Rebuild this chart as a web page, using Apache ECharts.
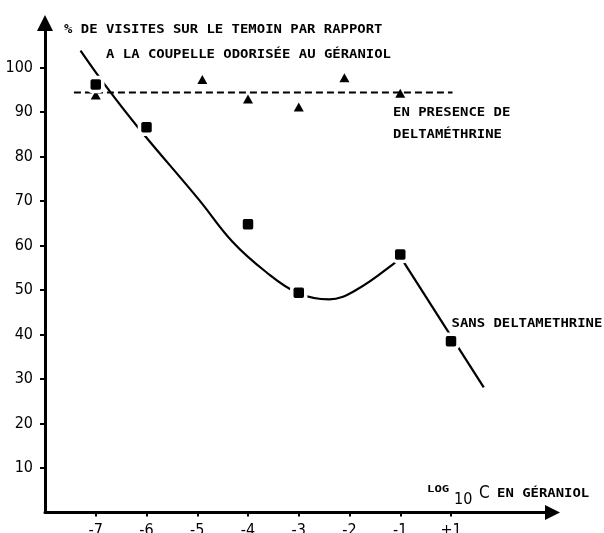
<!DOCTYPE html>
<html><head><meta charset="utf-8">
<script src="https://cdn.jsdelivr.net/npm/echarts@6/dist/echarts.min.js"></script>
<style>html,body{margin:0;padding:0;background:#fff}#c{width:604px;height:533px}</style>
</head><body><div id="c"></div>
<script>
// tick values / labels
const yTickValues = [10, 20, 30, 40, 50, 60, 70, 80, 90, 100];
const xTickPos = [-7, -6, -5, -4, -3, -2, -1, 0];
const xTickLabels = ['-7', '-6', '-5', '-4', '-3', '-2', '-1', '+1'];
// sans deltaméthrine (squares)
const sqX = [-7, -6, -4, -3, -1, 0];
const sqY = [96.2, 86.6, 64.8, 49.4, 58.0, 38.5];
// en présence de deltaméthrine (triangles)
const triX = [-7, -4.9, -4, -3, -2.1, -1];
const triY = [93.8, 97.3, 92.9, 91.1, 97.7, 94.2];
// hand-drawn fitted curve
const curveX = [-7.30, -6.80, -6.15, -4.96, -4.31, -3.65, -3.03, -2.40, -1.87, -1.12, -1.0];
const curveY = [103.8, 95.8, 86.3, 70.2, 60.9, 54.1, 49.4, 47.9, 50.0, 56.0, 57.5];
const tailX = [-1.0, 0.645];
const tailY = [57.5, 28.1];
// dashed mean line
const meanX = [-7.43, 0.03];
const meanY = [94.4, 94.4];

const zip = (a, b) => a.map((v, i) => [v, b[i]]);
const MONO = '"DejaVu Sans Mono", "Liberation Mono", monospace';
const COND = '"DejaVu Sans Condensed", "Liberation Sans Narrow", "DejaVu Sans", sans-serif';
const SX = 1.16;

function txt(x, y, text, size, family, sx, weight) {
  return {
    type: 'text', x: x, y: y, scaleX: sx || 1, z: 50,
    style: {
      text: text, fill: '#000',
      fontSize: size, fontFamily: family, fontWeight: weight || 'bold',
      align: 'left', verticalAlign: 'middle'
    }
  };
}

const chart = echarts.init(document.getElementById('c'), null, {renderer: 'canvas'});
chart.setOption({
  animation: false,
  backgroundColor: '#fff',
  grid: {left: 45, right: 51.5, top: 23, bottom: 20.5, containLabel: false, outerBoundsMode: 'none'},
  xAxis: {
    type: 'value', min: -8, max: 2,
    splitLine: {show: false},
    axisLine: {show: true, onZero: false, lineStyle: {color: '#000', width: 3},
      symbol: ['none', 'triangle'], symbolSize: [15, 15]},
    axisTick: {show: true, inside: false, length: 4, lineStyle: {color: '#000', width: 2},
      customValues: xTickPos},
    axisLabel: {show: true, customValues: xTickPos, margin: 10, color: '#000',
      fontSize: 16, fontFamily: COND,
      formatter: v => xTickLabels[xTickPos.indexOf(v)]}
  },
  yAxis: {
    type: 'value', min: 0, max: 110,
    splitLine: {show: false},
    axisLine: {show: true, onZero: false, lineStyle: {color: '#000', width: 3},
      symbol: ['none', 'triangle'], symbolSize: [16, 16]},
    axisTick: {show: true, inside: false, length: 5, lineStyle: {color: '#000', width: 2},
      customValues: yTickValues},
    axisLabel: {show: true, customValues: yTickValues, margin: 12, color: '#000',
      fontSize: 16, fontFamily: COND}
  },
  series: [
    {
      type: 'line', name: 'moyenne', data: zip(meanX, meanY), showSymbol: false, symbol: 'none',
      lineStyle: {color: '#000', width: 2, type: [7, 4]}, z: 2
    },
    {
      type: 'line', name: 'courbe', data: zip(curveX, curveY), showSymbol: false, symbol: 'none',
      smooth: 0.4,
      lineStyle: {color: '#000', width: 2.2}, z: 2
    },
    {
      type: 'line', name: 'courbe2', data: zip(tailX, tailY), showSymbol: false, symbol: 'none',
      lineStyle: {color: '#000', width: 2.2}, z: 2
    },
    {
      type: 'scatter', name: 'en présence de deltaméthrine', data: zip(triX, triY),
      symbol: 'triangle', symbolSize: [10, 9],
      itemStyle: {color: '#000', opacity: 1}, z: 4
    },
    {
      type: 'scatter', name: 'sans deltaméthrine', data: zip(sqX, sqY),
      symbol: 'roundRect', symbolSize: 14,
      itemStyle: {color: '#000', opacity: 1, borderColor: '#fff', borderWidth: 3.5}, z: 5
    }
  ],
  graphic: [
    txt(64, 29.5, '% DE VISITES SUR LE TEMOIN PAR RAPPORT', 12, MONO, SX),
    txt(106, 54.5, 'A LA COUPELLE ODORISÉE AU GÉRANIOL', 12, MONO, SX),
    txt(393, 113, 'EN PRESENCE DE', 12, MONO, SX),
    txt(393, 135, 'DELTAMÉTHRINE', 12, MONO, SX),
    txt(451.5, 324, 'SANS DELTAMETHRINE', 12, MONO, SX),
    txt(427, 489.5, 'LOG', 8.5, MONO, 1.45),
    txt(454, 499.5, '10', 16, COND, 1, 'normal'),
    txt(479, 493.5, 'C', 17, COND, 1, 'normal'),
    txt(497, 493.5, 'EN GÉRANIOL', 12, MONO, SX)
  ]
});
</script>
</body></html>
